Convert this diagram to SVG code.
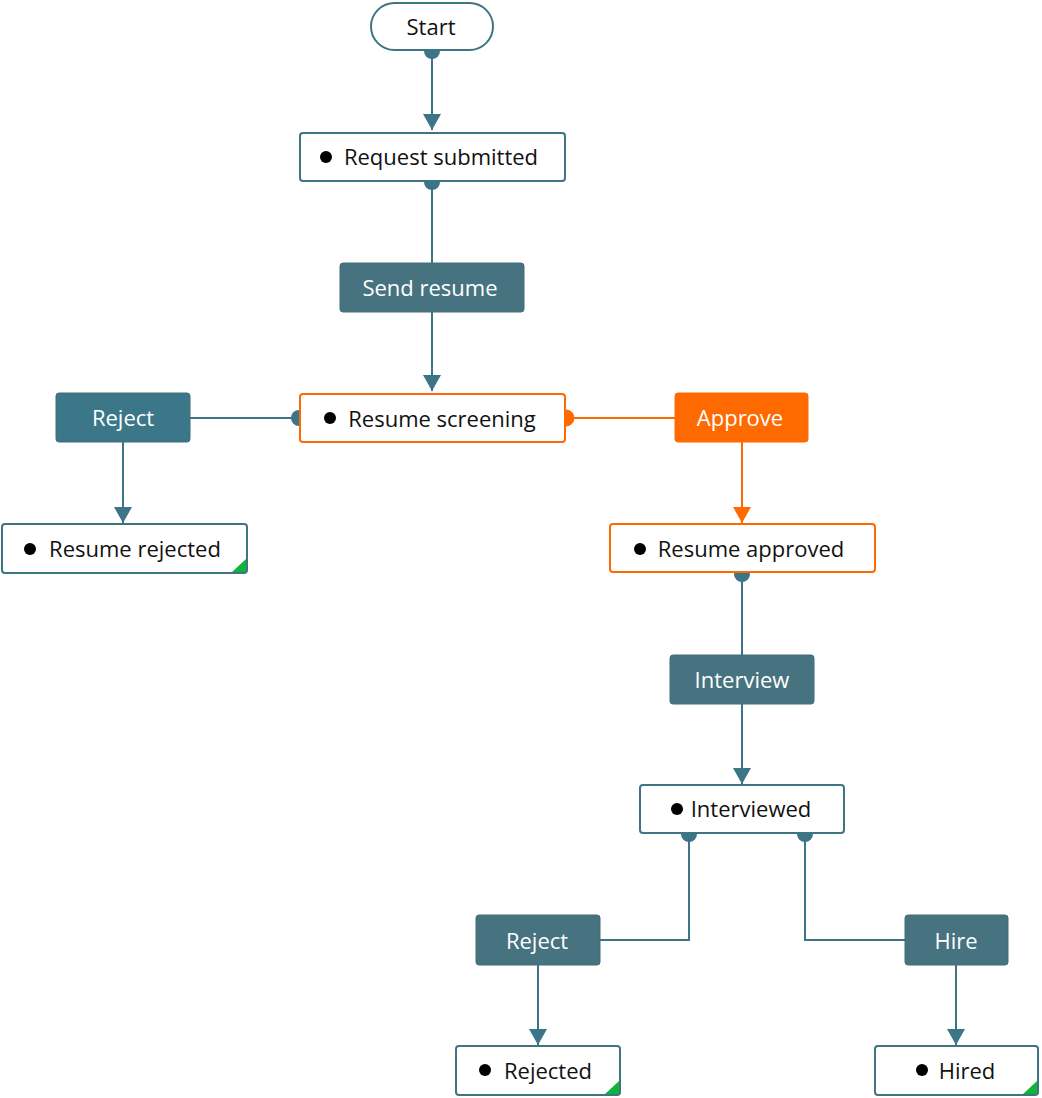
<svg xmlns="http://www.w3.org/2000/svg" width="1042" height="1098" viewBox="0 0 1042 1098">
<defs>
<style>
.state rect{fill:#fff;stroke:#3f7482;stroke-width:2}
.state.hot rect{stroke:#ff6a00}
.txt{font-family:"Open Sans","Liberation Sans",sans-serif;font-size:22px;fill:#111;text-anchor:middle;dominant-baseline:central}
.act rect{fill:#46737f;stroke:#3f6f7b;stroke-width:1}
.act.alt rect{fill:#3b7789}
.act.hot rect{fill:#ff6a00;stroke:#ff6a00}
.act text{fill:#fff}
.conn path{fill:none;stroke:#3b7587;stroke-width:2}
.conn .o{stroke:#ff6a00}
.dot{fill:#3b7587}
.dot.o{fill:#ff6a00}
.bullet{fill:#000}
.corner{fill:#12b33a}
</style>
<marker id="arr" viewBox="0 0 16 18" refX="16" refY="9" markerWidth="16" markerHeight="18" markerUnits="userSpaceOnUse" orient="auto"><path d="M0,0 L16,9 L0,18 Z" fill="#3b7587"/></marker>
<marker id="arrO" viewBox="0 0 16 18" refX="16" refY="9" markerWidth="16" markerHeight="18" markerUnits="userSpaceOnUse" orient="auto"><path d="M0,0 L16,9 L0,18 Z" fill="#ff6a00"/></marker>
</defs>
<rect width="1042" height="1098" fill="#fff"/>

<g id="connectors" class="conn">
<path d="M432,54 V130" marker-end="url(#arr)"/>
<path d="M432,185 V263"/>
<path d="M432,312 V391" marker-end="url(#arr)"/>
<path d="M296,418 H190"/>
<path d="M123,442 V523" marker-end="url(#arr)"/>
<path class="o" d="M569,418 H675"/>
<path class="o" d="M742,442 V523" marker-end="url(#arrO)"/>
<path d="M742,577 V655"/>
<path d="M742,704 V784" marker-end="url(#arr)"/>
<path d="M689,837 V940 H600"/>
<path d="M805,837 V940 H905"/>
<path d="M538,965 V1045" marker-end="url(#arr)"/>
<path d="M956,965 V1045" marker-end="url(#arr)"/>
<circle class="dot" cx="432" cy="51" r="8"/>
<circle class="dot" cx="432" cy="182" r="8"/>
<circle class="dot" cx="299" cy="418" r="8"/>
<circle class="dot o" cx="566" cy="418" r="8"/>
<circle class="dot" cx="742" cy="574" r="8"/>
<circle class="dot" cx="689" cy="834" r="8"/>
<circle class="dot" cx="805" cy="834" r="8"/>
</g>

<g id="start" class="state"><rect x="371" y="3" width="122" height="47" rx="23.5"/><text class="txt" x="431" y="26">Start</text></g>

<g id="request-submitted" class="state"><rect x="300" y="133" width="265" height="48" rx="3"/><circle class="bullet" cx="326" cy="157" r="6"/><text class="txt" x="441" y="156">Request submitted</text></g>

<g id="send-resume" class="act"><rect x="340" y="263" width="184" height="49" rx="3"/><text class="txt" x="430" y="287">Send resume</text></g>

<g id="resume-screening" class="state hot"><rect x="300" y="394" width="265" height="48" rx="3"/><circle class="bullet" cx="330" cy="418" r="6"/><text class="txt" x="442" y="418">Resume screening</text></g>

<g id="reject-1" class="act alt"><rect x="56" y="393" width="134" height="49" rx="3"/><text class="txt" x="123" y="417">Reject</text></g>

<g id="resume-rejected" class="state"><rect x="2" y="524" width="245" height="49" rx="3"/><circle class="bullet" cx="30" cy="549" r="6"/><text class="txt" x="135" y="548">Resume rejected</text><path class="corner" d="M246,559 V572 H232 Z"/></g>

<g id="approve" class="act hot"><rect x="675" y="393" width="133" height="49" rx="3"/><text class="txt" x="740" y="417">Approve</text></g>

<g id="resume-approved" class="state hot"><rect x="610" y="524" width="265" height="48" rx="3"/><circle class="bullet" cx="640" cy="549" r="6"/><text class="txt" x="751" y="548">Resume approved</text></g>

<g id="interview" class="act"><rect x="670" y="655" width="144" height="49" rx="3"/><text class="txt" x="742" y="679">Interview</text></g>

<g id="interviewed" class="state"><rect x="640" y="785" width="204" height="48" rx="3"/><circle class="bullet" cx="677" cy="809" r="6"/><text class="txt" x="751" y="808">Interviewed</text></g>

<g id="reject-2" class="act"><rect x="476" y="915" width="124" height="50" rx="3"/><text class="txt" x="537" y="940">Reject</text></g>

<g id="hire" class="act"><rect x="905" y="915" width="103" height="50" rx="3"/><text class="txt" x="956" y="940">Hire</text></g>

<g id="rejected" class="state"><rect x="456" y="1046" width="164" height="49" rx="3"/><circle class="bullet" cx="485" cy="1070" r="6"/><text class="txt" x="548" y="1070">Rejected</text><path class="corner" d="M619,1081 V1094 H605 Z"/></g>

<g id="hired" class="state"><rect x="875" y="1046" width="163" height="49" rx="3"/><circle class="bullet" cx="922" cy="1070" r="6"/><text class="txt" x="967" y="1070">Hired</text><path class="corner" d="M1037,1081 V1094 H1023 Z"/></g>
</svg>
